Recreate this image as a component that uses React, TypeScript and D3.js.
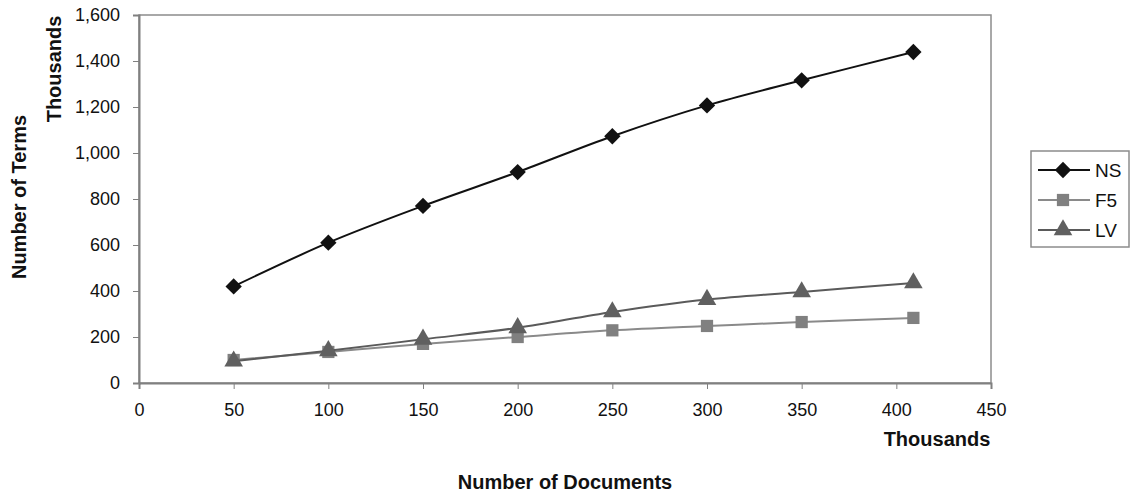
import React, { useRef, useEffect } from 'react';
import * as d3 from 'd3';

// values in thousands
const documents = [50, 100, 150, 200, 250, 300, 350, 409];
const nsTerms = [420, 610, 770, 917, 1073, 1207, 1316, 1439];
const f5Terms = [100, 135, 170, 200, 229, 248, 265, 283];
const lvTerms = [95, 140, 190, 240, 309, 363, 396, 435];
const xTicks = [0, 50, 100, 150, 200, 250, 300, 350, 400, 450];
const yTicks = [0, 200, 400, 600, 800, 1000, 1200, 1400, 1600];

const SERIES = [
    { name: 'NS', values: nsTerms, line: '#111111', fill: '#111111', symbol: d3.symbolDiamond2, size: 170 },
    { name: 'F5', values: f5Terms, line: '#8a8a8a', fill: '#808080', symbol: d3.symbolSquare, size: 150 },
    { name: 'LV', values: lvTerms, line: '#5a5a5a', fill: '#606060', symbol: d3.symbolTriangle, size: 150 },
];

const FONT = '"Liberation Sans", Arial, sans-serif';

const TermsChart: React.FC = () => {
    const ref = useRef<SVGSVGElement>(null);

    useEffect(() => {
        if (!ref.current) return;
        const svg = d3.select(ref.current);
        svg.selectAll("*").remove();

        const plot = { left: 139, right: 991, top: 15, bottom: 383 };

        const x = d3.scaleLinear().domain([0, 450]).range([plot.left, plot.right]);
        const y = d3.scaleLinear().domain([0, 1600]).range([plot.bottom, plot.top]);

        // plot frame
        svg.append("rect")
            .attr("x", plot.left)
            .attr("y", plot.top)
            .attr("width", plot.right - plot.left)
            .attr("height", plot.bottom - plot.top)
            .attr("fill", "none")
            .attr("stroke", "#8c8c8c")
            .attr("stroke-width", 1.5);

        const yAxis = svg.append("g")
            .attr("transform", `translate(${plot.left},0)`)
            .call(d3.axisLeft(y).tickValues(yTicks).tickSize(6).tickPadding(13).tickFormat(d3.format(",")));
        yAxis.select(".domain").attr("stroke", "#808080").attr("stroke-width", 2);
        yAxis.selectAll("line").attr("stroke", "#808080");
        yAxis.selectAll("text").style("font-family", FONT).style("font-size", "18px").attr("fill", "#111");

        const xAxis = svg.append("g")
            .attr("transform", `translate(0,${plot.bottom})`)
            .call(d3.axisBottom(x).tickValues(xTicks).tickSize(6).tickPadding(14));
        xAxis.select(".domain").attr("stroke", "#808080").attr("stroke-width", 2);
        xAxis.selectAll("line").attr("stroke", "#808080");
        xAxis.selectAll("text").style("font-family", FONT).style("font-size", "18px").attr("fill", "#111");

        const line = d3.line<number>()
            .x((_, i) => x(documents[i]))
            .y(d => y(d))
            .curve(d3.curveCatmullRom.alpha(0));

        SERIES.forEach(s => {
            svg.append("path")
                .datum(s.values)
                .attr("fill", "none")
                .attr("stroke", s.line)
                .attr("stroke-width", 2)
                .attr("d", line);

            svg.append("g")
                .selectAll("path")
                .data(s.values)
                .enter()
                .append("path")
                .attr("transform", (d, i) => `translate(${x(documents[i])},${y(d)})`)
                .attr("d", d3.symbol().type(s.symbol).size(s.size) as any)
                .attr("fill", s.fill);
        });

        // axis titles
        const bold = (sel: any) => sel.style("font-family", FONT).style("font-weight", "bold").style("font-size", "20px").attr("fill", "#111");
        svg.append("text").attr("x", 937).attr("y", 446).attr("text-anchor", "middle").call(bold).text("Thousands");
        svg.append("text").attr("x", 565).attr("y", 489).attr("text-anchor", "middle").call(bold).text("Number of Documents");
        svg.append("text").attr("transform", "translate(61,69) rotate(-90)").attr("text-anchor", "middle").call(bold).text("Thousands");
        svg.append("text").attr("transform", "translate(26,197) rotate(-90)").attr("text-anchor", "middle").call(bold).text("Number of Terms");

        // legend
        const legend = svg.append("g");
        legend.append("rect")
            .attr("x", 1031).attr("y", 151).attr("width", 98).attr("height", 96)
            .attr("fill", "white").attr("stroke", "#8c8c8c").attr("stroke-width", 1.5);
        SERIES.forEach((s, i) => {
            const ly = 170 + i * 30;
            legend.append("line")
                .attr("x1", 1038).attr("x2", 1090).attr("y1", ly).attr("y2", ly)
                .attr("stroke", s.line).attr("stroke-width", 2);
            legend.append("path")
                .attr("transform", `translate(1063,${ly})`)
                .attr("d", d3.symbol().type(s.symbol).size(s.size) as any)
                .attr("fill", s.fill);
            legend.append("text")
                .attr("x", 1095).attr("y", ly + 7)
                .style("font-family", FONT).style("font-size", "19px").attr("fill", "#111")
                .text(s.name);
        });
    }, []);

    return <svg ref={ref} width={1132} height={495} style={{ display: 'block' }}></svg>;
};

export default function App() {
    return (
        <div style={{ position: 'absolute', left: 0, top: 0, background: 'white' }}>
            <TermsChart />
        </div>
    );
}
